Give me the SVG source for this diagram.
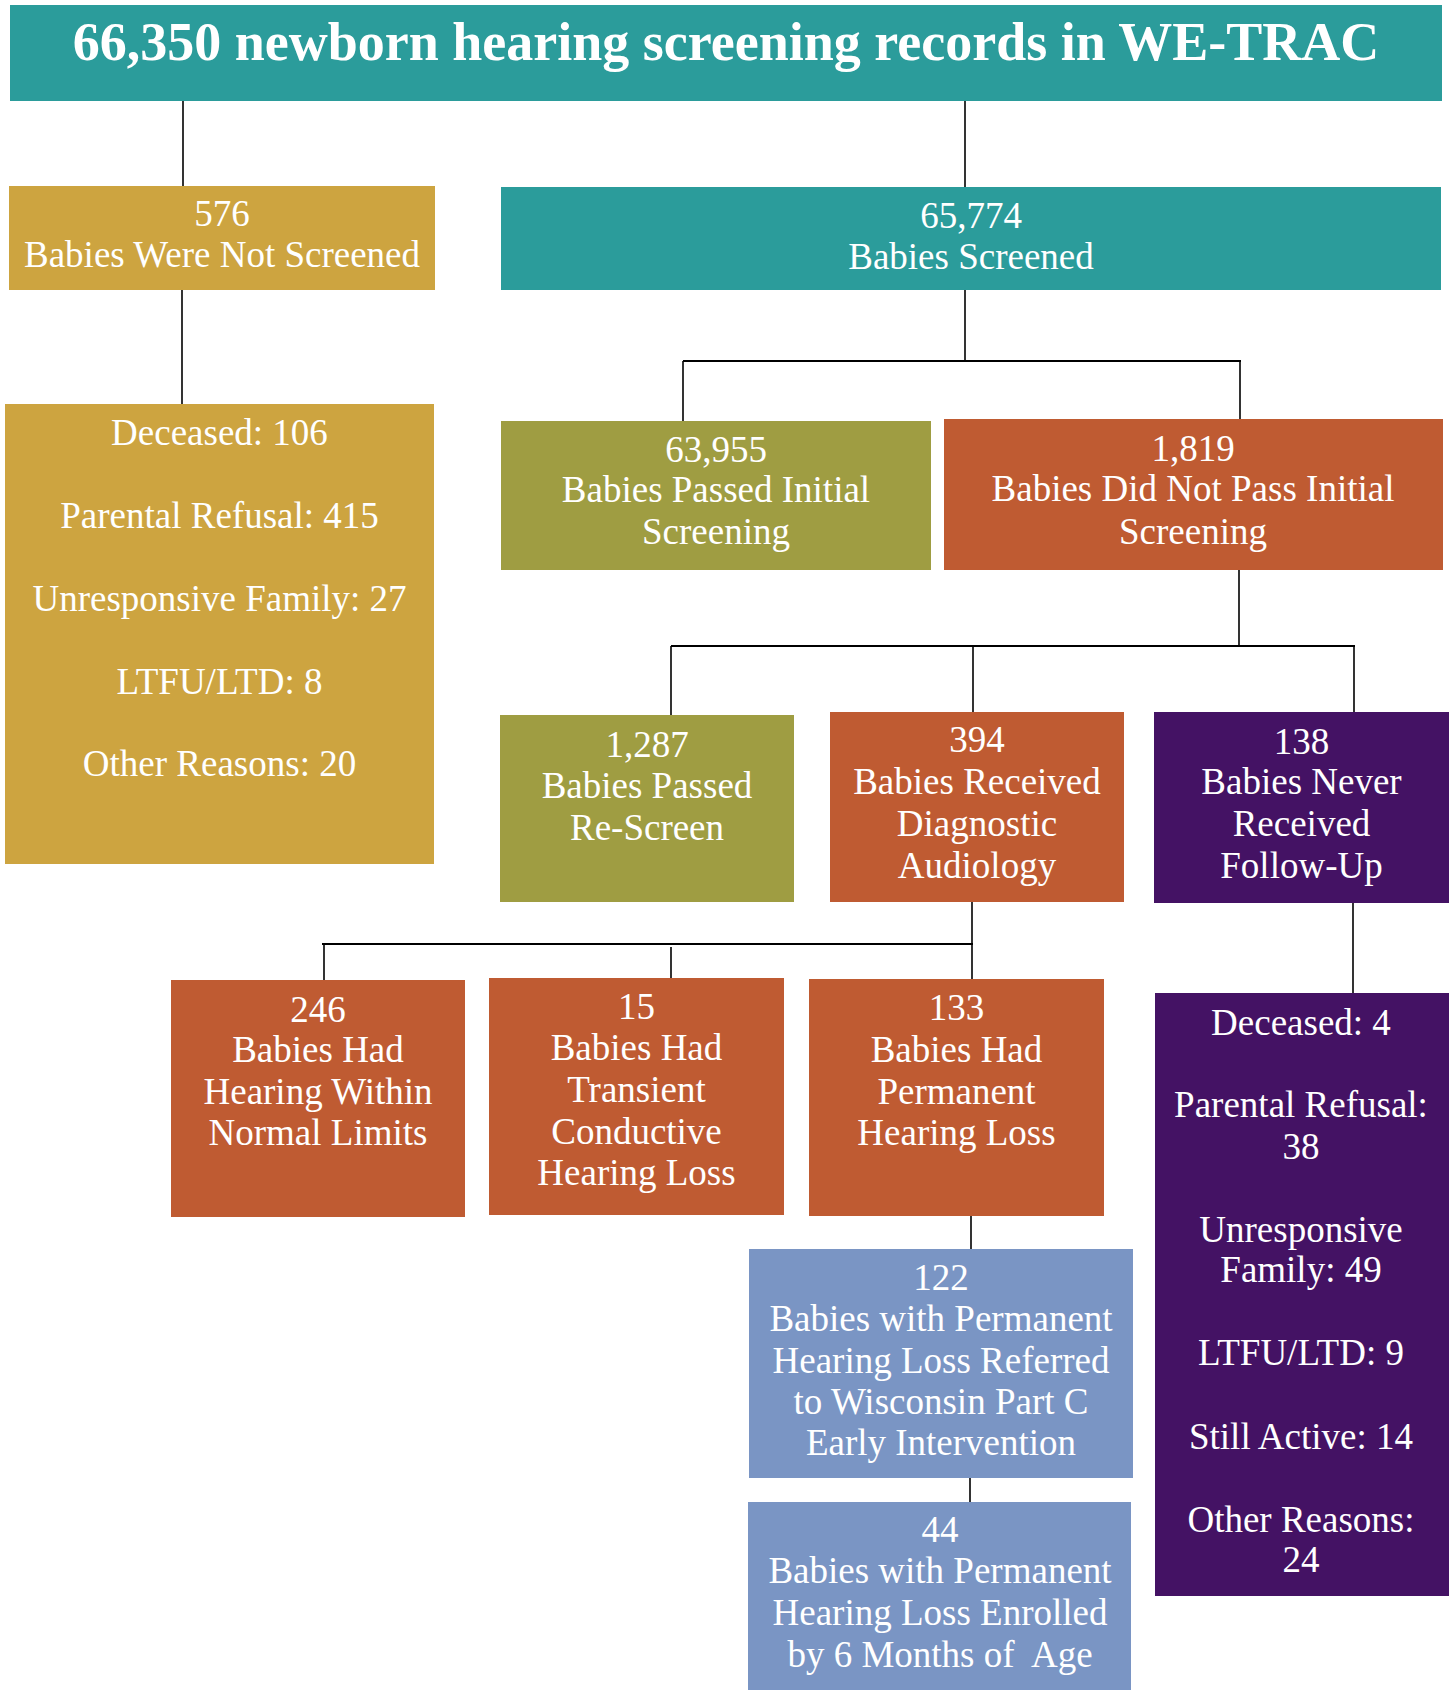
<svg xmlns="http://www.w3.org/2000/svg" width="1449" height="1690" viewBox="0 0 1449 1690">
<style>
text{font-family:"Liberation Serif","Times New Roman",serif;fill:#fff;text-anchor:middle;font-size:37px}
.title{font-size:54px;font-weight:bold}
.teal{fill:#2B9C9B}.gold{fill:#CDA440}.olive{fill:#9F9D42}.orange{fill:#BF5B32}.purple{fill:#441264}.blue{fill:#7A95C4}
.c line{stroke:#000;stroke-width:1.6}
.c .bar{stroke-width:2.2}
</style>
<rect width="1449" height="1690" fill="#fff"/>
<g class="c" id="connectors">
<line x1="183" y1="100" x2="183" y2="186"/>
<line x1="965" y1="100" x2="965" y2="187"/>
<line x1="182" y1="290" x2="182" y2="404"/>
<line x1="965" y1="290" x2="965" y2="361"/>
<line class="bar" x1="683" y1="361" x2="1241" y2="361"/>
<line x1="683" y1="361" x2="683" y2="421"/>
<line x1="1240" y1="361" x2="1240" y2="419"/>
<line x1="1239" y1="570" x2="1239" y2="646"/>
<line class="bar" x1="671" y1="646" x2="1355" y2="646"/>
<line x1="671" y1="646" x2="671" y2="715"/>
<line x1="973" y1="646" x2="973" y2="712"/>
<line x1="1354" y1="646" x2="1354" y2="712"/>
<line x1="972" y1="902" x2="972" y2="979"/>
<line class="bar" x1="322" y1="944" x2="973" y2="944"/>
<line x1="324" y1="944" x2="324" y2="980"/>
<line x1="671" y1="947" x2="671" y2="978"/>
<line x1="1353" y1="903" x2="1353" y2="993"/>
<line x1="971" y1="1216" x2="971" y2="1249"/>
<line x1="970" y1="1478" x2="970" y2="1502"/>
</g>
<g id="n-title"><rect class="teal" x="10" y="5" width="1432" height="96"/><text class="title" x="726" y="60">66,350 newborn hearing screening records in WE-TRAC</text></g>
<g id="n-notscreened"><rect class="gold" x="9" y="186" width="426" height="104"/><text x="222" y="226">576</text><text x="222" y="267">Babies Were Not Screened</text></g>
<g id="n-screened"><rect class="teal" x="501" y="187" width="940" height="103"/><text x="971" y="228">65,774</text><text x="971" y="269">Babies Screened</text></g>
<g id="n-notscreened-reasons"><rect class="gold" x="5" y="404" width="429" height="460"/>
<text x="219.5" y="445">Deceased: 106</text><text x="219.5" y="528">Parental Refusal: 415</text><text x="219.5" y="611">Unresponsive Family: 27</text><text x="219.5" y="694">LTFU/LTD: 8</text><text x="219.5" y="776">Other Reasons: 20</text></g>
<g id="n-passed"><rect class="olive" x="501" y="421" width="430" height="149"/><text x="716" y="462">63,955</text><text x="716" y="502">Babies Passed Initial</text><text x="716" y="544">Screening</text></g>
<g id="n-notpassed"><rect class="orange" x="944" y="419" width="499" height="151"/><text x="1193" y="461">1,819</text><text x="1193" y="501">Babies Did Not Pass Initial</text><text x="1193" y="544">Screening</text></g>
<g id="n-rescreen"><rect class="olive" x="500" y="715" width="294" height="187"/><text x="647" y="757">1,287</text><text x="647" y="798">Babies Passed</text><text x="647" y="840">Re-Screen</text></g>
<g id="n-diag"><rect class="orange" x="830" y="712" width="294" height="190"/><text x="977" y="752">394</text><text x="977" y="794">Babies Received</text><text x="977" y="836">Diagnostic</text><text x="977" y="878">Audiology</text></g>
<g id="n-never"><rect class="purple" x="1154" y="712" width="295" height="191"/><text x="1301.5" y="754">138</text><text x="1301.5" y="794">Babies Never</text><text x="1301.5" y="836">Received</text><text x="1301.5" y="878">Follow-Up</text></g>
<g id="n-normal"><rect class="orange" x="171" y="980" width="294" height="237"/><text x="318" y="1022">246</text><text x="318" y="1062">Babies Had</text><text x="318" y="1104">Hearing Within</text><text x="318" y="1145">Normal Limits</text></g>
<g id="n-transient"><rect class="orange" x="489" y="978" width="295" height="237"/><text x="636.5" y="1019">15</text><text x="636.5" y="1060">Babies Had</text><text x="636.5" y="1102">Transient</text><text x="636.5" y="1144">Conductive</text><text x="636.5" y="1185">Hearing Loss</text></g>
<g id="n-permanent"><rect class="orange" x="809" y="979" width="295" height="237"/><text x="956.5" y="1020">133</text><text x="956.5" y="1062">Babies Had</text><text x="956.5" y="1104">Permanent</text><text x="956.5" y="1145">Hearing Loss</text></g>
<g id="n-never-reasons"><rect class="purple" x="1155" y="993" width="294" height="603"/>
<text x="1301" y="1035">Deceased: 4</text><text x="1301" y="1117">Parental Refusal:</text><text x="1301" y="1159">38</text><text x="1301" y="1242">Unresponsive</text><text x="1301" y="1282">Family: 49</text><text x="1301" y="1365">LTFU/LTD: 9</text><text x="1301" y="1449">Still Active: 14</text><text x="1301" y="1532">Other Reasons:</text><text x="1301" y="1572">24</text></g>
<g id="n-referred"><rect class="blue" x="749" y="1249" width="384" height="229"/><text x="941" y="1290">122</text><text x="941" y="1331">Babies with Permanent</text><text x="941" y="1373">Hearing Loss Referred</text><text x="941" y="1414">to Wisconsin Part C</text><text x="941" y="1455">Early Intervention</text></g>
<g id="n-enrolled"><rect class="blue" x="748" y="1502" width="383" height="188"/><text x="940" y="1542">44</text><text x="940" y="1583">Babies with Permanent</text><text x="940" y="1625">Hearing Loss Enrolled</text><text x="940" y="1667" xml:space="preserve">by 6 Months of  Age</text></g>
</svg>
